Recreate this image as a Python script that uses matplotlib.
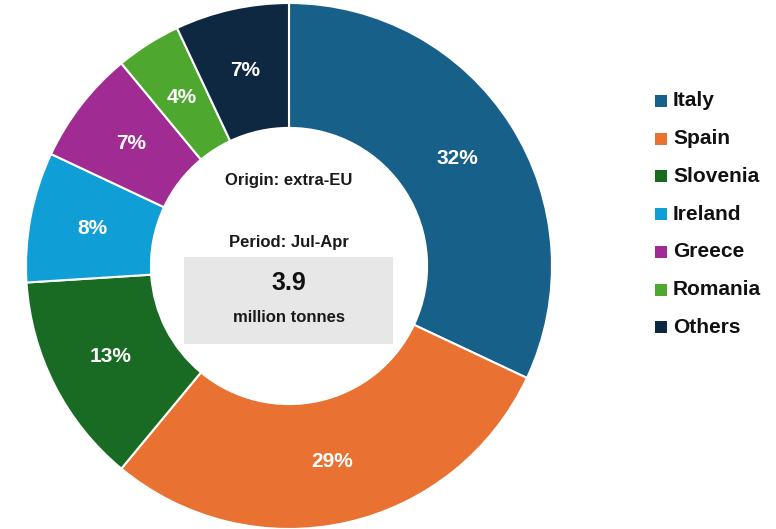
import matplotlib
matplotlib.use("Agg")
import matplotlib.pyplot as plt
from matplotlib.patches import Rectangle

plt.rcParams['font.family'] = ['Liberation Sans', 'DejaVu Sans']

countries = ['Italy', 'Spain', 'Slovenia', 'Ireland', 'Greece', 'Romania', 'Others']
shares = [32, 29, 13, 8, 7, 4, 7]
colors = ['#17608A', '#E97132', '#196B24', '#0F9ED5', '#A02B93', '#4EA72E', '#0E2841']
origin_text = 'Origin: extra-EU'
period_text = 'Period: Jul-Apr'
total_value = '3.9'
total_unit = 'million tonnes'

W, H = 776, 529
fig = plt.figure(figsize=(W / 100, H / 100), dpi=100)

# pie axes placed so that the ring centre sits at (289, 266) px, radius 263 px
cx, cy, R = 289, 266, 263
ax = fig.add_axes([(cx - R) / W, (H - cy - R) / H, 2 * R / W, 2 * R / H])

wedges, texts, autotexts = ax.pie(
    shares, colors=colors, startangle=90, counterclock=False, radius=1,
    autopct='%.0f%%', pctdistance=0.76,
    wedgeprops=dict(width=0.475, edgecolor='white', linewidth=1.5),
    textprops=dict(color='white', fontsize=15, fontweight='bold'))
ax.set_xlim(-1, 1)
ax.set_ylim(-1, 1)
ax.axis('off')


def px(x, y):
    return (x - cx) / R, (cy - y) / R


# centre block
bx0, by0 = px(184, 344)
bx1, by1 = px(393, 257)
ax.add_patch(Rectangle((bx0, by0), bx1 - bx0, by1 - by0, facecolor='#E7E7E7',
                       edgecolor='none', zorder=2))
ax.text(*px(289, 180), origin_text, ha='center', va='center', fontsize=12,
        fontweight='bold', color='#1a1a1a', zorder=3)
ax.text(*px(289, 242), period_text, ha='center', va='center', fontsize=12,
        fontweight='bold', color='#1a1a1a', zorder=3)
ax.text(*px(289, 283), total_value, ha='center', va='center', fontsize=18,
        fontweight='bold', color='#111111', zorder=3)
ax.text(*px(289, 317), total_unit, ha='center', va='center', fontsize=12,
        fontweight='bold', color='#1a1a1a', zorder=3)

# legend drawn by hand
for i, (name, col) in enumerate(zip(countries, colors)):
    y = 101 + i * 37.7
    fig.patches.append(Rectangle((655 / W, (H - y - 6) / H), 12 / W, 12 / H,
                                 facecolor=col, edgecolor='none',
                                 transform=fig.transFigure, figure=fig))
    fig.text(673 / W, (H - y) / H, name, ha='left', va='center',
             fontsize=15, fontweight='bold', color='#111111')

fig.savefig('out.png', dpi=100)
